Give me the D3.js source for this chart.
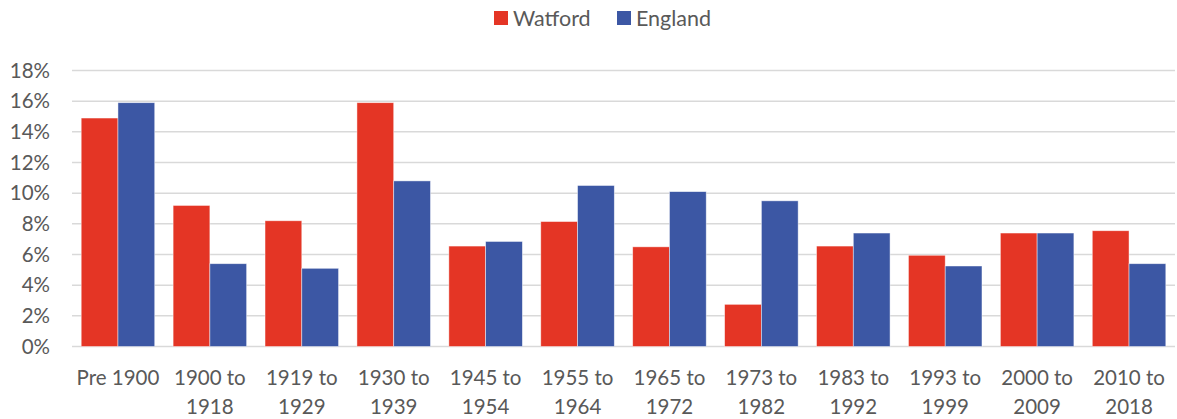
<!DOCTYPE html>
<html>
<head>
<meta charset="utf-8" />
<title>Watford vs England</title>
<script src="https://cdn.jsdelivr.net/npm/d3@7/dist/d3.min.js"></script>
<style>
body { margin: 0; background: #fff; }
text { font-family: Lato, "Open Sans", sans-serif; fill: #595959; }
</style>
</head>
<body>
<div id="chart"></div>
<script>
// categories, two lines each
const categories = ["Pre 1900", "1900 to|1918", "1919 to|1929", "1930 to|1939", "1945 to|1954",
	"1955 to|1964", "1965 to|1972", "1973 to|1982", "1983 to|1992", "1993 to|1999",
	"2000 to|2009", "2010 to|2018"];
const series = ["Watford", "England"];
const watford = [14.9, 9.2, 8.2, 15.9, 6.55, 8.15, 6.5, 2.75, 6.55, 5.95, 7.4, 7.55];
const england = [15.9, 5.4, 5.1, 10.8, 6.85, 10.5, 10.1, 9.5, 7.4, 5.25, 7.4, 5.4];
const yTicks = [0, 2, 4, 6, 8, 10, 12, 14, 16, 18];
const colors = ["#e43525", "#3c57a4"];

const width = 1177, height = 419;
const margin = {top: 71, right: 2, bottom: 72, left: 72};
const fs = 20.5;

const svg = d3.select("#chart").append("svg")
	.attr("width", width)
	.attr("height", height);

const x0 = d3.scaleBand()
	.domain(categories)
	.range([margin.left, width - margin.right])
	.paddingInner(0.2)
	.paddingOuter(0.1);
const x1 = d3.scaleBand()
	.domain(series)
	.range([0, x0.bandwidth()]);
const y = d3.scaleLinear()
	.domain([0, 18])
	.range([height - margin.bottom - 0.5, margin.top - 0.5]);

// gridlines
svg.append("g").selectAll("line")
	.data(yTicks)
	.enter().append("line")
	.attr("x1", margin.left)
	.attr("x2", width - margin.right)
	.attr("y1", d => y(d))
	.attr("y2", d => y(d))
	.attr("stroke", "#d9d9d9")
	.attr("stroke-width", 1.5);

// y labels
const yAxis = d3.axisLeft(y).tickValues(yTicks).tickFormat(d => d + "%").tickSize(0).tickPadding(0);
svg.append("g")
	.attr("transform", "translate(50,0)")
	.call(yAxis)
	.call(g => g.select(".domain").remove())
	.selectAll("text")
	.attr("font-size", fs)
	.style("font-family", "Lato, sans-serif")
	.attr("fill", "#595959");

// bars
const rows = categories.map((c, i) => ({cat: c, vals: [watford[i], england[i]]}));
const grp = svg.append("g").selectAll("g")
	.data(rows)
	.enter().append("g")
	.attr("transform", d => "translate(" + x0(d.cat) + ",0)");
grp.selectAll("rect")
	.data(d => d.vals.map((v, j) => ({key: series[j], v: v, j: j})))
	.enter().append("rect")
	.attr("x", d => x1(d.key))
	.attr("width", x1.bandwidth())
	.attr("y", d => y(d.v))
	.attr("height", d => y(0) - y(d.v))
	.attr("fill", d => colors[d.j])
	.attr("stroke", "#fff")
	.attr("stroke-opacity", 0.6)
	.attr("stroke-width", 0.75);

// x labels
const xl = svg.append("g").selectAll("text")
	.data(categories)
	.enter().append("text")
	.attr("x", d => x0(d) + x0.bandwidth() / 2)
	.attr("y", 385)
	.attr("text-anchor", "middle")
	.attr("font-size", fs);
xl.selectAll("tspan")
	.data(d => d.split("|"))
	.enter().append("tspan")
	.attr("x", function() { return d3.select(this.parentNode).attr("x"); })
	.attr("dy", (d, i) => i === 0 ? 0 : 29)
	.text(d => d);

// legend
const legend = svg.append("g");
const legX = [494, 617];
series.forEach((s, i) => {
	legend.append("rect")
		.attr("x", legX[i]).attr("y", 11)
		.attr("width", 14).attr("height", 14)
		.attr("fill", colors[i]);
	legend.append("text")
		.attr("x", legX[i] + 19).attr("y", 25.5)
		.attr("font-size", fs + 1)
		.text(s);
});
</script>
</body>
</html>
